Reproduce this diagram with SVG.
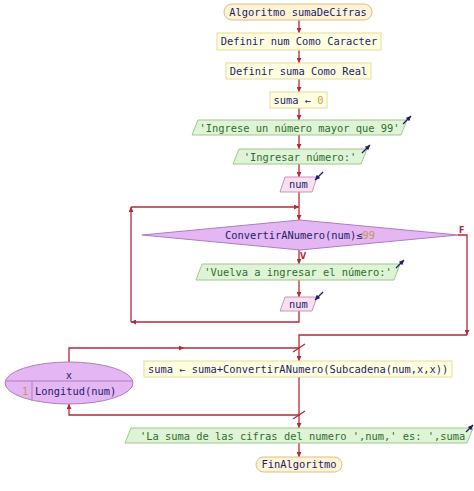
<svg xmlns="http://www.w3.org/2000/svg" width="474" height="491" viewBox="0 0 474 491">
<defs>
<style>
text{font-family:"DejaVu Sans Mono","Liberation Mono",monospace;font-size:10.4px;fill:#1c1c6e}
.c{text-anchor:middle}
.s{fill:#2c6e2c}
.n{fill:#c49a55}
.ln{fill:none;stroke:#b5283a;stroke-width:1.3}
.pr{fill:#ffffe0;stroke:#e6dc9c;stroke-width:1}
.ter{fill:#fff3d6;stroke:#d9bf8a;stroke-width:1}
.out{fill:#dff4d6;stroke:#9fc98f;stroke-width:1}
.inp{fill:#f8e0f0;stroke:#c996b6;stroke-width:1}
.dec{fill:#e4b6f2;stroke:#b07cc4;stroke-width:1}
.ic{fill:none;stroke:#1c1c6e;stroke-width:1.3}
.lb{font-family:"DejaVu Sans","Liberation Sans",sans-serif;font-size:8px;font-weight:bold;fill:#b5283a}
</style>
<marker id="ah" viewBox="0 0 8 8" refX="8" refY="4" markerWidth="5" markerHeight="5" orient="auto" markerUnits="userSpaceOnUse">
<path d="M0,0 L8,4 L0,8 z" fill="#b5283a"/>
</marker>
<marker id="ai" viewBox="0 0 8 8" refX="8" refY="4" markerWidth="5" markerHeight="5" orient="auto" markerUnits="userSpaceOnUse">
<path d="M0,0 L8,4 L0,8 z" fill="#1c1c6e"/>
</marker>
</defs>
<rect width="474" height="491" fill="#ffffff"/>

<g id="connectors">
<line class="ln" x1="299" y1="20" x2="299" y2="33" marker-end="url(#ah)"/>
<line class="ln" x1="299" y1="50" x2="299" y2="63" marker-end="url(#ah)"/>
<line class="ln" x1="299" y1="79" x2="299" y2="92" marker-end="url(#ah)"/>
<line class="ln" x1="299" y1="108" x2="299" y2="120" marker-end="url(#ah)"/>
<line class="ln" x1="299" y1="135" x2="299" y2="149" marker-end="url(#ah)"/>
<line class="ln" x1="299" y1="164" x2="299" y2="177" marker-end="url(#ah)"/>
<line class="ln" x1="299" y1="192" x2="299" y2="220" marker-end="url(#ah)"/>
<line class="ln" x1="299" y1="250" x2="299" y2="264" marker-end="url(#ah)"/>
<line class="ln" x1="299" y1="280" x2="299" y2="297" marker-end="url(#ah)"/>
<polyline class="ln" points="299,310 299,322 131,322" marker-end="url(#ah)"/>
<line class="ln" x1="131" y1="322" x2="131" y2="207" marker-end="url(#ah)"/>
<line class="ln" x1="131" y1="207" x2="299" y2="207" marker-end="url(#ah)"/>
<polyline class="ln" points="458,235 467,235 467,335" marker-end="url(#ah)"/>
<polyline class="ln" points="467,335 299,335 299,361" marker-end="url(#ah)"/>
<polyline class="ln" points="69,362 69,348 184,348" marker-end="url(#ah)"/>
<line class="ln" x1="184" y1="348" x2="299" y2="348"/>
<line class="ln" x1="293" y1="352" x2="305" y2="344"/>
<polyline class="ln" points="299,377 299,415 69,415 69,404" marker-end="url(#ah)"/>
<line class="ln" x1="293" y1="419" x2="305" y2="411"/>
<line class="ln" x1="299" y1="415" x2="299" y2="428" marker-end="url(#ah)"/>
<line class="ln" x1="299" y1="443" x2="299" y2="457" marker-end="url(#ah)"/>
<text class="lb" x="300" y="259">V</text>
<text class="lb" x="459" y="233">F</text>
</g>

<g id="start">
<rect class="ter" x="224" y="4" width="148" height="16" rx="8"/>
<text class="c" x="298" y="15.5">Algoritmo sumaDeCifras</text>
</g>
<g id="def-num">
<rect class="pr" x="217" y="33" width="164" height="17"/>
<text class="c" x="299" y="45">Definir num Como Caracter</text>
</g>
<g id="def-suma">
<rect class="pr" x="226" y="63" width="145" height="16"/>
<text class="c" x="298.5" y="74.5">Definir suma Como Real</text>
</g>
<g id="assign0">
<rect class="pr" x="270" y="92" width="57" height="16"/>
<text x="273.5" y="103.5">suma ← <tspan class="n">0</tspan></text>
</g>
<g id="out1">
<polygon class="out" points="198,120 407,120 401,135 192,135"/>
<text class="c s" x="299.5" y="131.5">'Ingrese un número mayor que 99'</text>
<line class="ic" x1="403" y1="124" x2="411" y2="116" marker-end="url(#ai)"/>
</g>
<g id="out2">
<polygon class="out" points="239,149 367,149 361,164 233,164"/>
<text class="c s" x="300" y="160.5">'Ingresar número:'</text>
<line class="ic" x1="362" y1="153" x2="370" y2="145" marker-end="url(#ai)"/>
</g>
<g id="in1">
<polygon class="inp" points="285,177 317,177 312,192 280,192"/>
<text class="c" x="298.5" y="188">num</text>
<line class="ic" x1="323" y1="172" x2="315" y2="180" marker-end="url(#ai)"/>
</g>
<g id="while">
<polygon class="dec" points="142,235 300,220 458,235 300,250"/>
<text class="c" x="300" y="238.5">ConvertirANumero(num)≤<tspan class="n">99</tspan></text>
</g>
<g id="out3">
<polygon class="out" points="202,264 400,264 394,280 196,280"/>
<text class="c s" x="298" y="275.5">'Vuelva a ingresar el número:'</text>
<line class="ic" x1="396" y1="268" x2="404" y2="260" marker-end="url(#ai)"/>
</g>
<g id="in2">
<polygon class="inp" points="285,297 317,297 312,311 280,311"/>
<text class="c" x="298.5" y="307.5">num</text>
<line class="ic" x1="323" y1="292" x2="315" y2="300" marker-end="url(#ai)"/>
</g>
<g id="for">
<ellipse class="dec" cx="69" cy="383" rx="64" ry="21"/>
<line x1="6" y1="381" x2="132" y2="381" stroke="#b07cc4" stroke-width="1"/>
<line x1="32" y1="381" x2="32" y2="401" stroke="#b07cc4" stroke-width="1"/>
<text class="c" x="69" y="378.5">x</text>
<text class="n" x="22" y="394.5">1</text>
<text x="35" y="394.5">Longitud(num)</text>
</g>
<g id="sum">
<rect class="pr" x="144" y="361" width="308" height="16"/>
<text x="148" y="372.5">suma ← suma+ConvertirANumero(Subcadena(num,x,x))</text>
</g>
<g id="out4">
<polygon class="out" points="131,428 473,428 467,443 125,443"/>
<text class="s" x="140" y="439.5">'La suma de las cifras del numero ',num,' es: ',suma</text>
<line class="ic" x1="466" y1="432" x2="473" y2="425" marker-end="url(#ai)"/>
</g>
<g id="end">
<rect class="ter" x="256" y="457" width="86" height="15" rx="7.5"/>
<text class="c" x="299" y="468">FinAlgoritmo</text>
</g>
</svg>
